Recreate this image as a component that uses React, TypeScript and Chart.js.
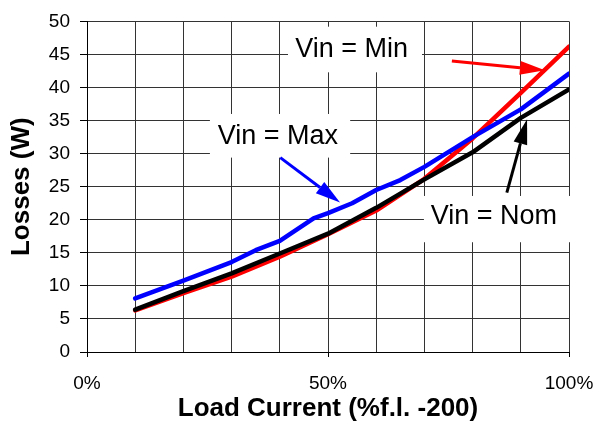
import React, { useEffect, useRef } from 'react';
import { Chart, registerables } from 'chart.js';

Chart.register(...registerables);

// ---- data ----
const loadPct = [10, 20, 30, 40, 50, 60, 70, 80, 90, 100];
const vinMin = [6.3, 8.9, 11.4, 14.4, 17.8, 21.4, 26.2, 32.3, 39.2, 46.2];
const vinNom = [6.4, 9.2, 11.9, 14.9, 17.9, 21.8, 26.1, 30.2, 35.4, 39.7];
const maxPct = [10, 20, 30, 35, 40, 47, 50, 55, 60, 65, 70, 80, 90, 100];
const vinMax = [8.1, 10.8, 13.6, 15.4, 16.8, 20.2, 21.0, 22.5, 24.5, 26.0, 28.0, 32.5, 36.7, 42.1];

const xTicks = [0, 50, 100];
const yTicks = [0, 5, 10, 15, 20, 25, 30, 35, 40, 45, 50];

const xTitle = 'Load Current (%f.l. -200)';
const yTitle = 'Losses (W)';

// annotation labels (data coordinates)
const annLabels = ['Vin = Min', 'Vin = Max', 'Vin = Nom'];
const annLabelX = [54.9, 39.6, 84.4];
const annLabelY = [46.1, 33.0, 20.9];
const annBoxX1 = [41.7, 25.5, 69.9];
const annBoxX2 = [69.5, 54.6, 101.8];
const annBoxY1 = [49.2, 36.0, 23.6];
const annBoxY2 = [42.3, 29.4, 16.6];
const arrowFromX = [75.7, 40.1, 87.1];
const arrowFromY = [44.0, 29.4, 24.1];
const arrowToX = [95.0, 52.5, 91.3];
const arrowToY = [42.6, 22.6, 35.2];
const annColors = ['#ff0000', '#0000ff', '#000000'];

const FONT = '"Liberation Sans", Arial, Helvetica, sans-serif';

const annotationPlugin = {
  id: 'vinAnnotations',
  beforeDatasetsDraw(chart: any) {
    const { ctx, scales } = chart;
    const x = scales.x, y = scales.y;
    ctx.save();
    ctx.fillStyle = '#ffffff';
    for (let i = 0; i < annLabels.length; i++) {
      const l = x.getPixelForValue(annBoxX1[i]);
      const r = x.getPixelForValue(annBoxX2[i]);
      const t = y.getPixelForValue(annBoxY1[i]);
      const b = y.getPixelForValue(annBoxY2[i]);
      ctx.fillRect(l, t, r - l, b - t);
    }
    ctx.restore();
  },
  afterDatasetsDraw(chart: any) {
    const { ctx, scales } = chart;
    const x = scales.x, y = scales.y;
    ctx.save();
    ctx.font = `27px ${FONT}`;
    ctx.fillStyle = '#000';
    ctx.textAlign = 'center';
    ctx.textBaseline = 'alphabetic';
    for (let i = 0; i < annLabels.length; i++) {
      ctx.fillText(annLabels[i], x.getPixelForValue(annLabelX[i]), y.getPixelForValue(annLabelY[i]) + 9.7);
    }
    for (let i = 0; i < annLabels.length; i++) {
      const x0 = x.getPixelForValue(arrowFromX[i]);
      const y0 = y.getPixelForValue(arrowFromY[i]);
      const x1 = x.getPixelForValue(arrowToX[i]);
      const y1 = y.getPixelForValue(arrowToY[i]);
      const ang = Math.atan2(y1 - y0, x1 - x0);
      const headLen = 25, headW = 7;
      const bx = x1 - headLen * Math.cos(ang);
      const by = y1 - headLen * Math.sin(ang);
      ctx.strokeStyle = annColors[i];
      ctx.fillStyle = annColors[i];
      ctx.lineWidth = 3;
      ctx.beginPath();
      ctx.moveTo(x0, y0);
      ctx.lineTo(bx, by);
      ctx.stroke();
      ctx.beginPath();
      ctx.moveTo(x1, y1);
      ctx.lineTo(bx + headW * Math.sin(ang), by - headW * Math.cos(ang));
      ctx.lineTo(bx - headW * Math.sin(ang), by + headW * Math.cos(ang));
      ctx.closePath();
      ctx.fill();
    }
    ctx.restore();
  },
};

export default function App() {
  const ref = useRef<HTMLCanvasElement | null>(null);
  useEffect(() => {
    if (!ref.current) return;
    const lineStyle = {
      borderWidth: 4.5,
      pointRadius: 0,
      tension: 0,
      borderJoinStyle: 'round',
      borderCapStyle: 'round',
    };
    const chart = new Chart(ref.current, {
      type: 'line',
      data: {
        datasets: [
          {
            label: 'Vin = Max',
            data: maxPct.map((p, i) => ({ x: p, y: vinMax[i] })),
            borderColor: '#0000ff',
            ...lineStyle,
          },
          {
            label: 'Vin = Nom',
            data: loadPct.map((p, i) => ({ x: p, y: vinNom[i] })),
            borderColor: '#000000',
            ...lineStyle,
          },
          {
            label: 'Vin = Min',
            data: loadPct.map((p, i) => ({ x: p, y: vinMin[i] })),
            borderColor: '#ff0000',
            ...lineStyle,
          },
        ],
      },
      options: {
        responsive: false,
        animation: false,
        layout: { padding: { top: 20, right: 28, bottom: 0, left: 0 } },
        plugins: { legend: { display: false }, tooltip: { enabled: false } },
        scales: {
          x: {
            type: 'linear',
            min: 0,
            max: 100,
            ticks: {
              stepSize: 10,
              autoSkip: false,
              maxRotation: 0,
              padding: 15,
              color: '#000',
              font: { family: FONT, size: 19 },
              callback: (v: any) => (xTicks.includes(Number(v)) ? `${v}%` : ''),
            },
            grid: {
              color: '#333',
              lineWidth: 1,
              tickLength: 5,
              tickColor: (c: any) => (xTicks.includes(c.tick?.value) ? '#000' : 'rgba(0,0,0,0)'),
            },
            border: { color: '#000', width: 1 },
            title: {
              display: true,
              text: xTitle,
              color: '#000',
              font: { family: FONT, size: 26, weight: 'bold' },
              padding: { top: 0, bottom: 0 },
            },
            afterFit: (s: any) => {
              s.height = 72;
              s.paddingLeft = 0;
              s.paddingRight = 0;
            },
          },
          y: {
            min: 0,
            max: 50,
            afterBuildTicks: (s: any) => { s.ticks = yTicks.map(v => ({ value: v })); },
            ticks: {
              padding: 10,
              color: '#000',
              font: { family: FONT, size: 19 },
            },
            grid: { color: '#333', lineWidth: 1, tickLength: 7, tickColor: '#000' },
            border: { color: '#000', width: 1 },
            title: {
              display: true,
              text: yTitle,
              color: '#000',
              font: { family: FONT, size: 26, weight: 'bold' },
              padding: { top: 6, bottom: 0 },
            },
            afterFit: (s: any) => { s.width = 87; },
          },
        },
      } as any,
      plugins: [annotationPlugin],
    });
    return () => chart.destroy();
  }, []);
  return (
    <div style={{ position: 'fixed', left: 0, top: 0, width: 597, height: 424, background: '#fff' }}>
      <canvas ref={ref} width={597} height={424} />
    </div>
  );
}
